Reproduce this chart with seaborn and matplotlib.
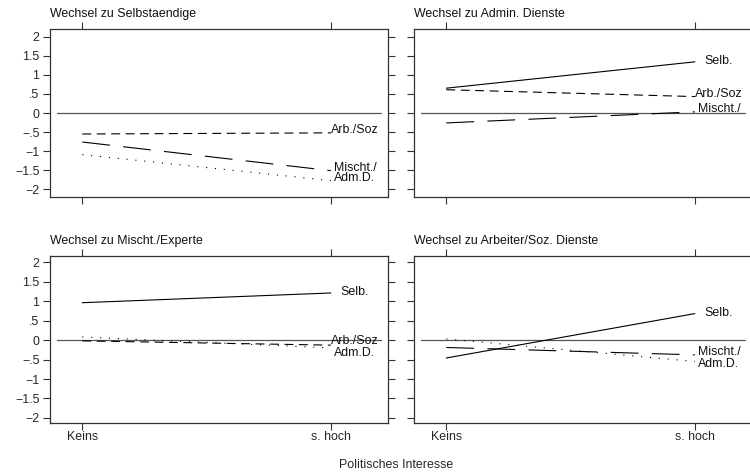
import matplotlib
matplotlib.use("Agg")
import matplotlib.pyplot as plt
import seaborn as sns
import pandas as pd

sns.set_style("ticks")
plt.rcParams['font.family'] = ['Liberation Sans', 'DejaVu Sans']

# ---- data ----
x_levels = ["Keins", "s. hoch"]
panel_titles = ["Wechsel zu Selbstaendige", "Wechsel zu Admin. Dienste",
                "Wechsel zu Mischt./Experte", "Wechsel zu Arbeiter/Soz. Dienste"]

selb_vals = [None, [0.65, 1.34], [0.96, 1.21], [-0.46, 0.68]]
arb_vals = [[-0.55, -0.52], [0.61, 0.43], [-0.02, -0.13], None]
mischt_vals = [[-0.76, -1.51], [-0.26, 0.03], None, [-0.19, -0.38]]
adm_vals = [[-1.09, -1.77], None, [0.08, -0.20], [0.03, -0.55]]

series_names = ["Selb.", "Arb./Soz", "Mischt./", "Adm.D."]
series_vals = [selb_vals, arb_vals, mischt_vals, adm_vals]

# end-of-line label heights (where labels sit)
label_y = [
    {"Arb./Soz": -0.52, "Mischt./": -1.51, "Adm.D.": -1.79},
    {"Selb.": 1.29, "Arb./Soz": 0.43, "Mischt./": 0.03},
    {"Selb.": 1.16, "Arb./Soz": -0.10, "Adm.D.": -0.40},
    {"Selb.": 0.62, "Mischt./": -0.38, "Adm.D.": -0.68},
]

y_ticks = [2, 1.5, 1, 0.5, 0, -0.5, -1, -1.5, -2]
y_ticklabels = ["2", "1.5", "1", ".5", "0", "\u2212.5", "\u22121", "\u22121.5", "\u22122"]
x_title = "Politisches Interesse"

# ---- styling ----
dash_map = {"Selb.": "", "Arb./Soz": (8, 5), "Mischt./": (25, 12), "Adm.D.": (1, 7)}
W, H = 750, 475
fig = plt.figure(figsize=(W / 100, H / 100), dpi=100)
fs = 8.9
edge = "#333333"

boxes = [(50, 29, 338, 168), (414, 29, 338, 168), (50, 256, 338, 167), (414, 256, 338, 167)]
ylims = [(-2.2, 2.2), (-2.2, 2.2), (-2.13, 2.16), (-2.13, 2.16)]

for i, (l, t, w, h) in enumerate(boxes):
    ax = fig.add_axes([l / W, 1 - (t + h) / H, w / W, h / H])
    rows = []
    for name, vals in zip(series_names, series_vals):
        v = vals[i]
        if v is None:
            continue
        for xi, yv in enumerate(v):
            rows.append({"x": xi, "y": yv, "series": name})
    df = pd.DataFrame(rows)
    present = [n for n in series_names if n in set(df["series"])]
    ax.axhline(0, xmin=0.022, xmax=0.978, color="#555555", lw=0.9, zorder=1)
    sns.lineplot(data=df, x="x", y="y", style="series", style_order=present,
                 dashes={k: dash_map[k] for k in present}, color="black",
                 lw=0.8, legend=False, ax=ax, zorder=2)
    for line in ax.lines[1:]:
        line.set_dash_capstyle("butt")
    for name, yy in label_y[i].items():
        ax.text(1.097, yy, name, ha="center", va="baseline", fontsize=fs, color="#111111")
    ax.set_xlim(-0.13, 1.23)
    ax.set_ylim(*ylims[i])
    ax.set_xlabel("")
    ax.set_ylabel("")
    ax.set_xticks([0, 1])
    ax.set_yticks(y_ticks)
    ax.tick_params(axis="both", which="both", direction="out", length=4.8, width=0.8,
                   color=edge, labelsize=fs,
                   top=True, right=True, bottom=True, left=True)
    ax.tick_params(axis="y", pad=2.8)
    ax.tick_params(axis="x", pad=0.8)
    if i >= 2:
        ax.set_xticklabels(x_levels)
    else:
        ax.set_xticklabels([])
    if i % 2 == 0:
        ax.set_yticklabels(y_ticklabels)
    else:
        ax.set_yticklabels([])
    for sp in ax.spines.values():
        sp.set_visible(True)
        sp.set_color(edge)
        sp.set_linewidth(0.9)
    ax.text(0, 1 + 9 / h, panel_titles[i], transform=ax.transAxes, ha="left",
            va="bottom", fontsize=fs, color="#111111")

fig.text(396 / W, 1 - 465 / H, x_title, ha="center", va="center", fontsize=fs)
fig.savefig("out.png", dpi=100, facecolor="white")
